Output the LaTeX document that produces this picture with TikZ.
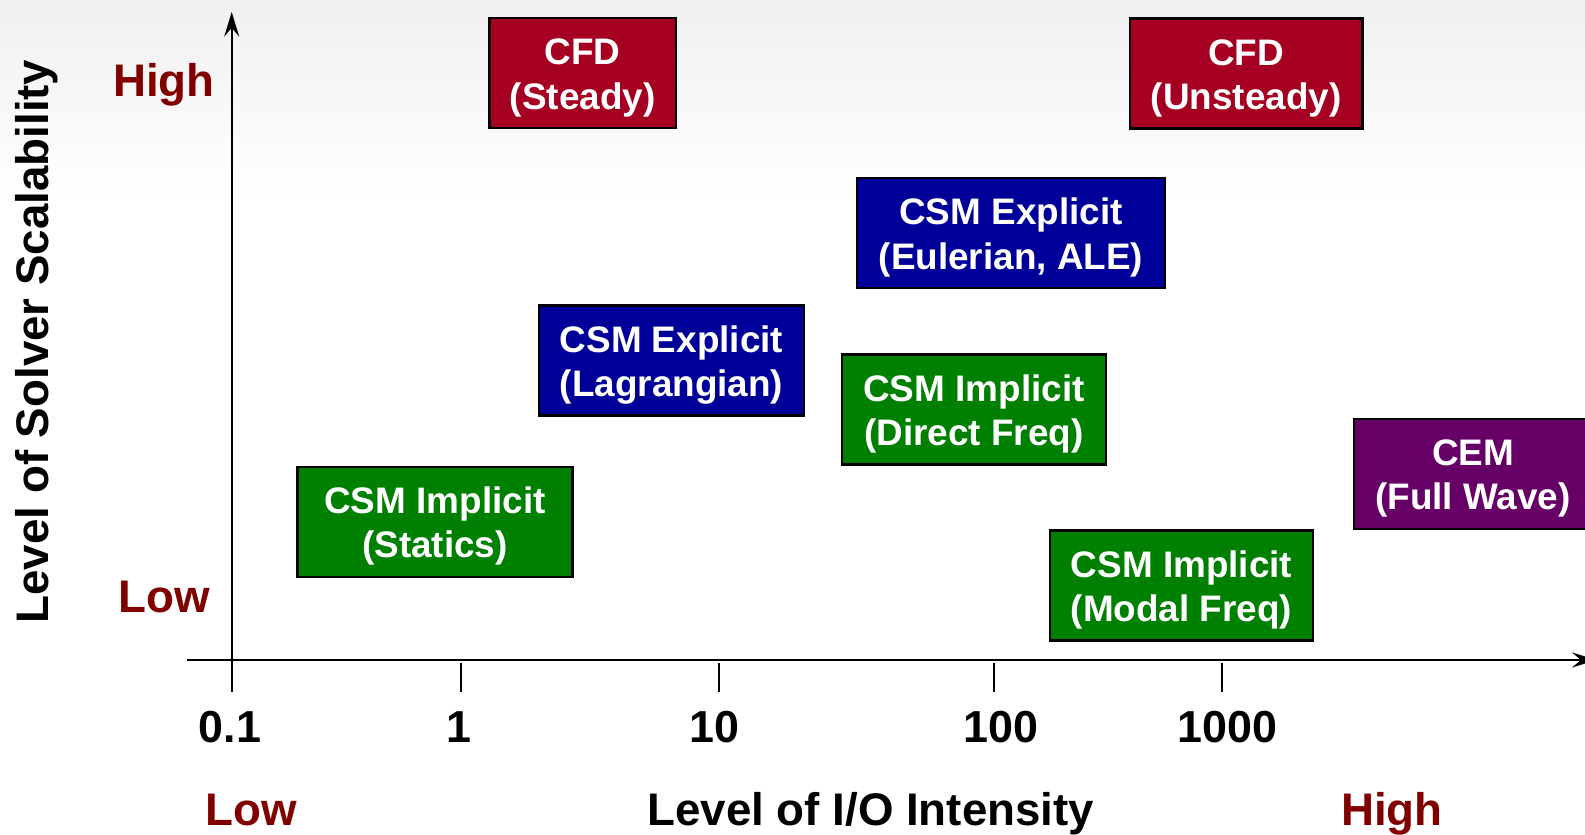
\documentclass[tikz,border=0pt]{standalone}
\usepackage{fontspec}
\setmainfont{Liberation Sans}
\usetikzlibrary{arrows.meta}
\definecolor{chartRed}{HTML}{A50021}
\definecolor{chartBlue}{HTML}{000099}
\definecolor{chartGreen}{HTML}{008000}
\definecolor{chartPurple}{HTML}{660066}
\definecolor{chartMaroon}{HTML}{800000}
\newcommand{\boxstrut}{\rule{0pt}{0.97em}}

\begin{document}
\begin{tikzpicture}[
  font=\bfseries,
  solverbox/.style={draw=black,line width=1.3pt,text=white,align=center,minimum height=2.2cm,inner sep=0pt,font=\fontsize{21}{25.2}\selectfont\bfseries},
  cfdbox/.style={solverbox,fill=chartRed},
  explicitbox/.style={solverbox,fill=chartBlue},
  implicitbox/.style={solverbox,fill=chartGreen},
  cembox/.style={solverbox,fill=chartPurple},
  axisline/.style={line width=1.2pt,-{Stealth[length=14pt,width=8.5pt,inset=5pt]}},
  ticmark/.style={line width=1.2pt},
  scalelabel/.style={font=\fontsize{26}{30}\selectfont\bfseries,text=chartMaroon,anchor=base},
  axistitle/.style={font=\fontsize{26}{30}\selectfont\bfseries,anchor=base},
  ticklabel/.style={font=\fontsize{25.5}{30}\selectfont\bfseries,anchor=base}
]
\path[use as bounding box,clip] (-4.634,-3.48) rectangle (27.066,13.2);
\fill[top color=black!6,bottom color=white] (-4.634,13.2) rectangle (27.066,9.2);

% axes
\coordinate (ybot) at (0,-0.64);
\coordinate (ytop) at (0,12.96);
\coordinate (xleft) at (-0.894,0);
\coordinate (xright) at (27.3,0);
\draw[axisline] (ybot) -- (ytop);
\draw[axisline] (xleft) -- (xright);

\foreach \x/\v/\lx/\n in {0/0.1/-0.034/tA,4.586/1/4.55/tB,9.74/10/9.66/tC,15.238/100/15.38/tD,19.806/1000/19.91/tE} {
  \draw[ticmark] (\x,-0.06) -- (\x,-0.64);
  \node[ticklabel] (\n) at (\lx,-1.654) {\v};
}

\node[scalelabel] (yhigh) at (-1.354,11.266) {High};
\node[scalelabel] (ylow) at (-1.354,0.946) {Low};
\node[axistitle,rotate=90] (ytitle) at (-3.654,6.37) {Level of Solver Scalability};

\node[scalelabel] (xlow) at (0.386,-3.3) {Low};
\node[axistitle] (xtitle) at (12.78,-3.3) {Level of I/O Intensity};
\node[scalelabel] (xhigh) at (23.206,-3.3) {High};

% solvers
\node[cfdbox,minimum width=3.73cm] (cfdsteady) at (7.02,11.744) {\boxstrut CFD\\(Steady)};
\node[cfdbox,minimum width=4.65cm] (cfdunsteady) at (20.29,11.73) {\boxstrut CFD\\(Unsteady)};
\node[explicitbox,minimum width=6.16cm] (csmeuler) at (15.586,8.54) {\boxstrut CSM Explicit\\(Eulerian, ALE)};
\node[explicitbox,minimum width=5.3cm] (csmlagrange) at (8.796,5.99) {\boxstrut CSM Explicit\\(Lagrangian)};
\node[implicitbox,minimum width=5.28cm] (csmdirect) at (14.846,5.01) {\boxstrut CSM Implicit\\(Direct Freq)};
\node[implicitbox,minimum width=5.5cm] (csmstatics) at (4.066,2.766) {\boxstrut CSM Implicit\\(Statics)};
\node[cembox,minimum width=4.76cm] (cemwave) at (24.826,3.726) {\boxstrut CEM\\(Full Wave)};
\node[implicitbox,minimum width=5.26cm] (csmmodal) at (18.996,1.49) {\boxstrut CSM Implicit\\(Modal Freq)};
\end{tikzpicture}
\end{document}
